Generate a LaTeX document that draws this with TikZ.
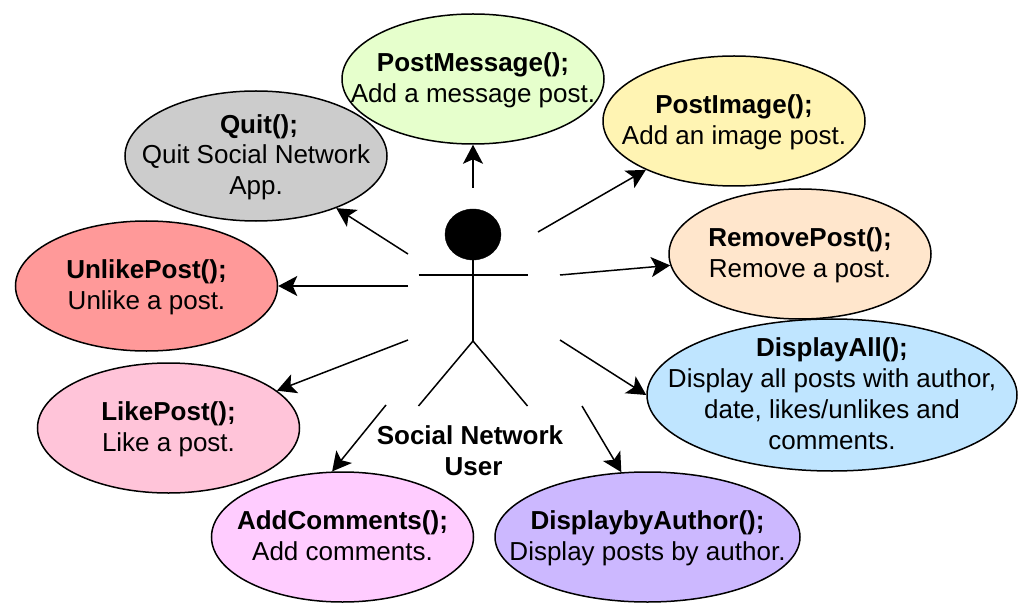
\documentclass[tikz,border=0pt]{standalone}
\usepackage{fontspec}
\setmainfont{Liberation Sans}
\usetikzlibrary{shapes.geometric,arrows.meta}
\definecolor{cm}{HTML}{E6FFCC}\definecolor{ci}{HTML}{FFF4B3}\definecolor{cq}{HTML}{CCCCCC}
\definecolor{cr}{HTML}{FFE6CC}\definecolor{cu}{HTML}{FF9999}\definecolor{cd}{HTML}{BFE5FF}
\definecolor{cl}{HTML}{FFC4D9}\definecolor{cc}{HTML}{FFCCFF}\definecolor{ca}{HTML}{CCB8FF}
\newcommand{\tp}{\rule{0pt}{23bp}}
\newcommand{\bt}{\rule[-7bp]{0pt}{7bp}}
\tikzset{
 txt/.style={align=center,inner sep=0pt,font=\fontsize{26bp}{30.8bp}\selectfont},
 oval/.style={draw=black,line width=1.5bp,ellipse,inner sep=0pt,minimum width=262bp,minimum height=130bp},
 conn/.style={-{Stealth[length=19bp,width=20bp,inset=4.5bp]},line width=1.5bp},
 limb/.style={line width=1.5bp}
}
\begin{document}
\begin{tikzpicture}[x=1bp,y=1bp]
\useasboundingbox (0,0) rectangle (1033,-613);
\node[oval,fill=cq,label={[txt]center:{\tp\hspace*{6bp}\textbf{Quit();}\\Quit Social Network\\App.\bt}}] (quit) at (256,-156) {};
\node[oval,fill=ci,label={[txt]center:{\tp\textbf{PostImage();}\\Add an image post.\bt}}] (img) at (734,-121) {};
\node[oval,fill=cm,label={[txt]center:{\tp\textbf{PostMessage();}\\Add a message post.\bt}}] (msg) at (473,-79) {};
\node[oval,fill=cr,label={[txt]center:{\tp\textbf{RemovePost();}\\Remove a post.\bt}}] (rem) at (800,-254) {};
\node[oval,fill=cu,label={[txt]center:{\tp\textbf{UnlikePost();}\\Unlike a post.\bt}}] (unl) at (146.5,-286) {};
\node[oval,fill=cd,minimum width=370bp,minimum height=152bp,label={[txt]center:{\tp\textbf{DisplayAll();}\\Display all posts with author,\\date, likes/unlikes and\\comments.\bt}}] (all) at (832,-395) {};
\node[oval,fill=cl,label={[txt]center:{\tp\textbf{LikePost();}\\Like a post.\bt}}] (lik) at (168.5,-428) {};
\node[oval,fill=cc,label={[txt]center:{\tp\textbf{AddComments();}\\Add comments.\bt}}] (add) at (342.5,-537) {};
\node[oval,fill=ca,minimum width=305bp,label={[txt]center:{\tp\textbf{DisplaybyAuthor();}\\Display posts by author.\bt}}] (aut) at (647.5,-537) {};
% actor
\node[draw=black,fill=black,ellipse,inner sep=0pt,minimum width=56bp,minimum height=51bp] (head) at (473,-234.5) {};
\coordinate (hip) at (473,-341);
\coordinate (armL) at (418.5,-275);
\coordinate (armR) at (527.5,-275);
\coordinate (footL) at (418.5,-406);
\coordinate (footR) at (527.5,-406);
\draw[limb] (head.south) -- (hip);
\draw[limb] (armL) -- (armR);
\draw[limb] (footL) -- (hip) -- (footR);
\node[txt,font=\fontsize{26bp}{31bp}\selectfont\bfseries] (actor) at (473.5,-451) {Social Network\hspace*{7bp}\\User};
% connector starts
\coordinate (s1) at (473,-188);
\coordinate (s2) at (408,-254);
\coordinate (s3) at (538,-232);
\coordinate (s4) at (560,-275);
\coordinate (s5) at (408,-286);
\coordinate (s6) at (408,-340);
\coordinate (s7) at (560,-340);
\coordinate (s8) at (386,-405);
\coordinate (s9) at (582,-406);
\draw[conn] (s1) -- (msg.south);
\draw[conn] (s2) -- (quit.-33);
\draw[conn] (s3) -- (img.209.7);
\draw[conn] (s4) -- (rem.185.3);
\draw[conn] (s5) -- (unl.east);
\draw[conn] (s6) -- (lik.19.6);
\draw[conn] (s7) -- (all.west);
\draw[conn] (s8) -- (add.99.9);
\draw[conn] (s9) -- (aut.112.5);
\end{tikzpicture}
\end{document}
